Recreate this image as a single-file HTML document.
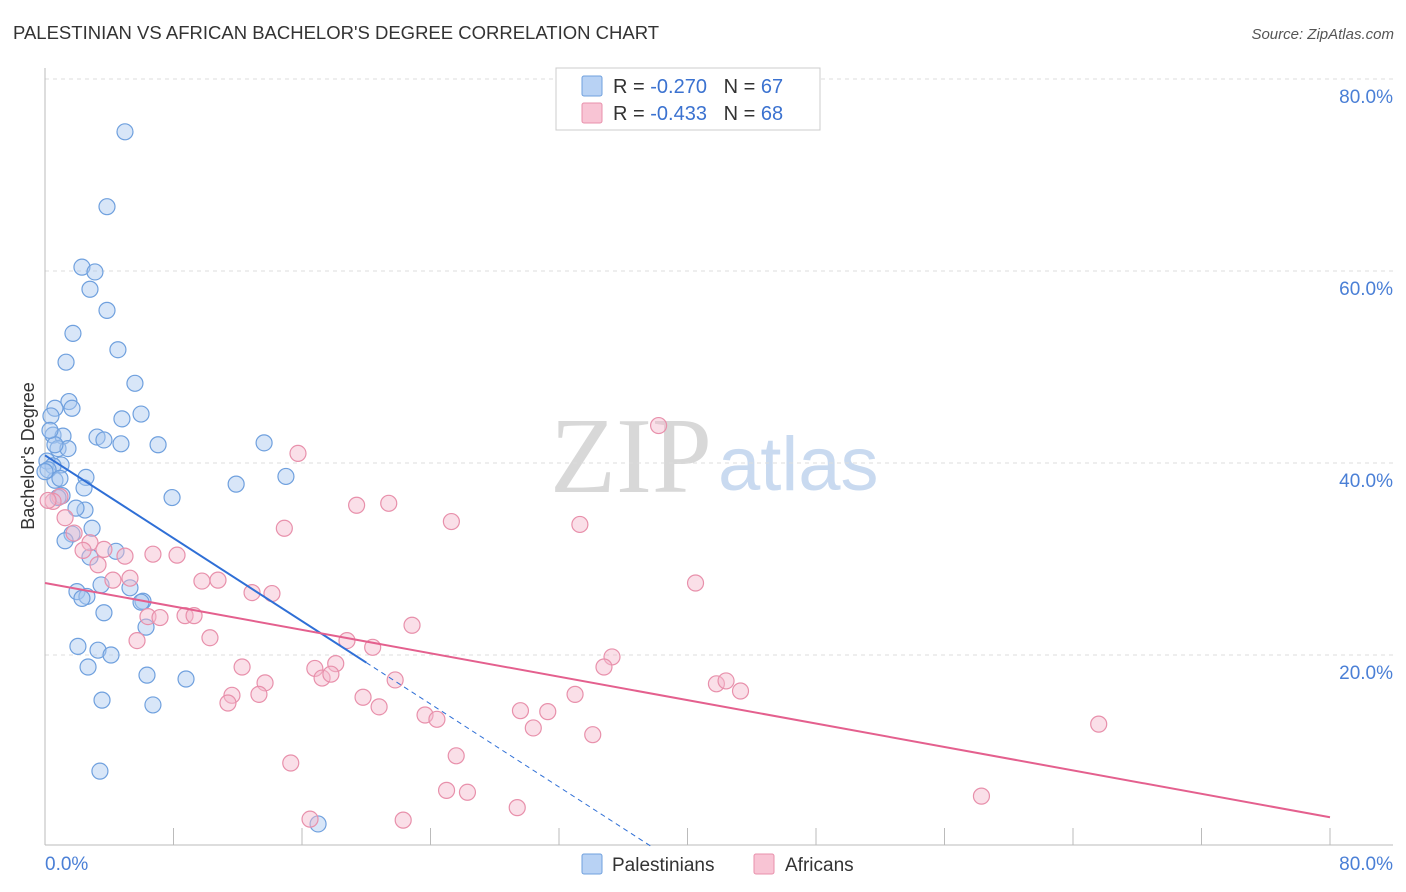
<!DOCTYPE html>
<html><head><meta charset="utf-8"><style>
body{margin:0;background:#fff;font-family:"Liberation Sans",sans-serif}
svg{display:block}
</style></head><body>
<svg id="c" width="1406" height="892">
<text x="13" y="39" font-size="18.5" fill="#333">PALESTINIAN VS AFRICAN BACHELOR'S DEGREE CORRELATION CHART</text>
<text x="1394" y="39" font-size="15" fill="#555" font-style="italic" text-anchor="end">Source: ZipAtlas.com</text>
<text x="712" y="492" font-size="108" fill="#d8d8d8" text-anchor="end" font-family="Liberation Serif">ZIP</text>
<text x="718" y="490" font-size="76" fill="#c9daf0">atlas</text>
<text transform="translate(34,456) rotate(-90)" font-size="18" fill="#333" text-anchor="middle">Bachelor's Degree</text>
<g id="grid"></g><g id="pts"></g><g id="reg"></g>
<g>
<rect x="556" y="68" width="264" height="62" fill="#fff" stroke="#ccc"/>
<rect x="582" y="76" width="20" height="20" fill="#b8d2f4" stroke="#6fa0de" rx="2"/>
<rect x="582" y="103" width="20" height="20" fill="#f8c4d4" stroke="#e890ab" rx="2"/>
<text x="613" y="93" font-size="20" fill="#333">R = <tspan fill="#3b72d0">-0.270</tspan>&#160;&#160;&#160;N = <tspan fill="#3b72d0">67</tspan></text>
<text x="613" y="120" font-size="20" fill="#333">R = <tspan fill="#3b72d0">-0.433</tspan>&#160;&#160;&#160;N = <tspan fill="#3b72d0">68</tspan></text>
</g>
<g>
<rect x="582" y="854" width="20" height="20" fill="#b8d2f4" stroke="#6fa0de" rx="2"/>
<text x="612" y="871" font-size="19" fill="#333">Palestinians</text>
<rect x="754" y="854" width="20" height="20" fill="#f8c4d4" stroke="#e890ab" rx="2"/>
<text x="785" y="871" font-size="19" fill="#333">Africans</text>
</g>
</svg>
<script>
const blueX=[4.98,3.86,2.30,3.11,2.80,3.86,1.74,4.54,1.31,5.60,1.49,1.68,0.62,0.37,4.79,5.98,0.50,1.12,3.24,3.67,4.73,7.04,13.64,0.81,1.43,0.12,1.00,0.50,2.55,15.0,11.9,2.43,0.62,1.06,7.91,2.49,1.93,2.93,1.68,1.25,4.42,2.80,3.49,5.29,1.99,2.61,2.30,6.10,5.98,3.67,6.29,2.05,3.30,4.11,2.68,6.35,8.78,3.55,6.72,3.42,17.0,0.19,0.93,0.62,0.31,0,0.81];
const blueY=[74.5,66.7,60.4,59.9,58.1,55.9,53.5,51.8,50.5,48.3,46.4,45.7,45.7,44.9,44.6,45.1,42.9,42.8,42.7,42.4,42.0,41.9,42.1,41.5,41.5,40.2,39.8,39.7,38.5,38.6,37.8,37.4,38.2,36.6,36.4,35.1,35.3,33.2,32.6,31.9,30.8,30.2,27.3,27.0,26.6,26.1,25.9,25.6,25.5,24.4,22.9,20.9,20.5,20.0,18.75,17.9,17.5,15.3,14.8,7.9,2.4,39.3,38.4,41.9,43.4,39.1,36.4];
const pinkX=[38.2,15.75,21.4,19.4,25.3,33.3,14.9,1.25,0.93,0.50,1.81,2.80,3.67,4.98,6.72,8.22,2.37,3.30,4.23,5.29,9.77,10.77,12.89,14.13,40.5,6.41,7.16,8.72,9.28,10.27,5.73,18.8,20.4,22.85,35.3,34.8,12.27,16.8,18.1,17.25,17.8,21.8,13.7,11.64,13.32,11.39,19.8,20.8,33.0,41.8,42.4,43.3,23.66,24.4,29.6,31.3,30.4,34.1,65.6,25.6,15.3,25.0,26.3,29.4,58.3,16.5,22.3,0.19];
const pinkY=[43.9,41.0,35.8,35.6,33.9,33.6,33.2,34.3,36.5,36.0,32.7,31.7,31.0,30.3,30.5,30.4,30.9,29.4,27.8,28.0,27.7,27.8,26.5,26.4,27.5,24.0,23.9,24.1,24.1,21.8,21.5,21.5,20.8,23.1,19.8,18.75,18.75,18.6,19.1,17.6,18.0,17.4,17.1,15.8,15.9,15.0,15.6,14.6,15.9,17.0,17.3,16.25,13.75,13.3,14.2,14.1,12.4,11.7,12.8,9.5,8.75,5.9,5.7,4.1,5.3,2.9,2.8,36.1];
const yTicks=[20,40,60,80];
const yTickLabels=["20.0%","40.0%","60.0%","80.0%"];
const xTicks=[0,8,16,24,32,40,48,56,64,72,80];
const blueLine={x0:0,y0:40.8,x1:20,xEnd:37.8};
const pinkLine={x0:0,y0:27.5,x1:80,y1:3.1};
const NS="http://www.w3.org/2000/svg";
const X=v=>45+v/80*1285, Y=v=>847-v*9.6;
function mk(t,a,p){const e=document.createElementNS(NS,t);for(const k in a)e.setAttribute(k,a[k]);p.appendChild(e);return e;}
const grid=document.getElementById('grid');
yTicks.forEach((t,i)=>{
 const l=mk('line',{x1:45,x2:1393,y1:Y(t),y2:Y(t),stroke:'#ddd','stroke-dasharray':'4,4'},grid);
 
 
 const tx=mk('text',{x:1393,y:Y(t)+24,'font-size':19,fill:'#4a7fd6','text-anchor':'end'},grid);
 tx.textContent=yTickLabels[i];
 
 
});
const ax=mk('line',{x1:45,x2:45,y1:68,y2:845,stroke:'#bbb'},grid);


const bx=mk('line',{x1:45,x2:1393,y1:845,y2:845,stroke:'#bbb'},grid);


xTicks.forEach(t=>{const l=mk('line',{x1:X(t),x2:X(t),y1:828,y2:845,stroke:'#bbb'},grid);
 
 });
const x0=mk('text',{x:45,y:870,'font-size':19,fill:'#4a7fd6'},grid);x0.textContent="0.0%";


const x1=mk('text',{x:1393,y:870,'font-size':19,fill:'#4a7fd6','text-anchor':'end'},grid);x1.textContent="80.0%";


const pts=document.getElementById('pts');
blueX.forEach((v,i)=>{const c=mk('circle',{cx:X(v),cy:Y(blueY[i]),r:8,fill:'rgba(169,200,240,0.45)',stroke:'#6fa0de','stroke-width':1.2},pts);
 
 });
pinkX.forEach((v,i)=>{const c=mk('circle',{cx:X(v),cy:Y(pinkY[i]),r:8,fill:'rgba(245,184,203,0.45)',stroke:'#e890ab','stroke-width':1.2},pts);
 
 });
const reg=document.getElementById('reg');
const slope=-blueLine.y0/blueLine.xEnd;
const b1=mk('line',{x1:X(blueLine.x0),y1:Y(blueLine.y0),x2:X(blueLine.x1),y2:Y(blueLine.y0+slope*blueLine.x1),stroke:'#2f6fd6','stroke-width':2},reg);


const b2=mk('line',{x1:X(blueLine.x1),y1:Y(blueLine.y0+slope*blueLine.x1),x2:X(blueLine.xEnd),y2:Y(0),stroke:'#2f6fd6','stroke-width':1,'stroke-dasharray':'5,4'},reg);


const p1=mk('line',{x1:X(pinkLine.x0),y1:Y(pinkLine.y0),x2:X(pinkLine.x1),y2:Y(pinkLine.y1),stroke:'#e4608e','stroke-width':2},reg);


</script>
</body></html>
